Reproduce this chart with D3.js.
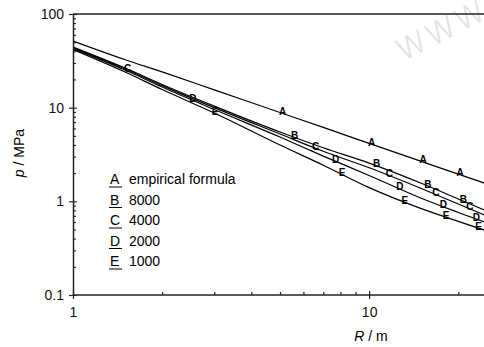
<!DOCTYPE html>
<html>
<head>
<meta charset="utf-8">
<script src="https://cdn.jsdelivr.net/npm/d3@7/dist/d3.min.js"></script>
<style>
  body { margin: 0; background: #fff; }
  svg { display: block; font-family: "Liberation Sans", Arial, sans-serif; }
</style>
</head>
<body>
<svg id="chart" width="484" height="347"></svg>
<script>
// distances R (m) where the curves were read
const distances = [1, 1.5, 2, 3, 5, 7, 10, 15, 20, 25];

// pressure p (MPa) per curve
const empirical = [51.4, 32.5, 24.1, 15.5, 8.87, 6.15, 4.16, 2.67, 1.95, 1.53];
const s8000 = [44.4, 26.5, 17.7, 10.4, 5.50, 3.73, 2.56, 1.56, 1.06, 0.784];
const s4000 = [43.9, 25.9, 17.2, 10.0, 5.23, 3.42, 2.28, 1.37, 0.938, 0.693];
const s2000 = [42.8, 25.2, 16.6, 9.55, 4.86, 3.04, 1.89, 1.08, 0.761, 0.586];
const s1000 = [41.7, 24.0, 15.6, 8.76, 3.99, 2.43, 1.40, 0.836, 0.612, 0.482];

const seriesKeys = ["A", "B", "C", "D", "E"];
const seriesNames = ["empirical formula", "8000", "4000", "2000", "1000"];
const seriesValues = [empirical, s8000, s4000, s2000, s1000];

// where the letter marks sit along each curve (R values)
const markerR = [
  [5.1, 10.2, 15.2, 20.3],
  [5.6, 10.6, 15.8, 20.8],
  [1.53, 6.6, 11.7, 16.8, 21.9],
  [2.54, 7.7, 12.7, 17.8, 23.0],
  [3.02, 8.1, 13.2, 18.2, 23.4]
];

const yTicks = [0.1, 1, 10, 100];
const xTicks = [1, 10];

const svg = d3.select("#chart");
const margin = {left: 73, top: 14, bottom: 52};
const height = 347 - margin.top - margin.bottom;

const x = d3.scaleLog().domain([1, 25]).range([margin.left, 487]);
const y = d3.scaleLog().domain([0.1, 100]).range([margin.top + height, margin.top]);

// watermark
svg.append("text")
  .attr("transform", "translate(402,62) rotate(-27)")
  .attr("font-size", 40)
  .attr("fill", "#e2e2e2")
  .attr("font-family", "DejaVu Sans, sans-serif")
  .attr("font-weight", 200)
  .text("www");

svg.append("clipPath").attr("id", "plot")
  .append("rect")
  .attr("x", margin.left).attr("y", margin.top)
  .attr("width", 487 - margin.left).attr("height", height);

// curves
const line = d3.line()
  .x(d => x(d[0]))
  .y(d => y(d[1]))
  .curve(d3.curveMonotoneX);

const curves = svg.append("g").attr("clip-path", "url(#plot)");
seriesValues.forEach(vals => {
  curves.append("path")
    .datum(distances.map((r, i) => [r, vals[i]]))
    .attr("fill", "none")
    .attr("stroke", "#000")
    .attr("stroke-width", 1.2)
    .attr("d", line);
});

// log-log lookup on a curve, for placing the letters
function pAt(vals, r) {
  let i = d3.bisectRight(distances, r) - 1;
  i = Math.max(0, Math.min(i, distances.length - 2));
  const t = (Math.log(r) - Math.log(distances[i])) / (Math.log(distances[i + 1]) - Math.log(distances[i]));
  return Math.exp(Math.log(vals[i]) + t * (Math.log(vals[i + 1]) - Math.log(vals[i])));
}

seriesKeys.forEach((k, si) => {
  curves.selectAll(null)
    .data(markerR[si])
    .enter().append("text")
    .attr("x", r => x(r))
    .attr("y", r => y(pAt(seriesValues[si], r)) + 1.5)
    .attr("text-anchor", "middle")
    .attr("font-size", 10)
    .attr("font-weight", "bold")
    .text(k);
});

// axes frame
const axisColor = "#222";
svg.append("line")
  .attr("x1", margin.left).attr("x2", 484)
  .attr("y1", margin.top).attr("y2", margin.top)
  .attr("stroke", axisColor).attr("stroke-width", 1.5);

const minorX = [2, 3, 4, 5, 6, 7, 8, 9, 20];
const minorY = [];
[0.1, 1, 10].forEach(d => { for (let m = 2; m <= 9; m++) minorY.push(d * m); });

function styleAxis(g) {
  g.select(".domain").attr("stroke", axisColor).attr("stroke-width", 1.5);
  g.selectAll(".tick line").attr("stroke", axisColor).attr("stroke-width", 1.2);
  g.selectAll(".tick text").attr("font-size", 14).attr("fill", "#111")
    .attr("font-family", "Liberation Sans, Arial, sans-serif");
}

const bottom = margin.top + height;
svg.append("g")
  .attr("transform", "translate(0," + bottom + ")")
  .call(d3.axisBottom(x).tickValues(xTicks).tickFormat(d3.format("")).tickSize(4).tickPadding(8).tickSizeOuter(0))
  .call(styleAxis)
  .call(g => g.select(".domain").attr("d", "M" + margin.left + ",0H484"));
svg.append("g")
  .attr("transform", "translate(0," + bottom + ")")
  .call(d3.axisTop(x).tickValues(xTicks.concat(minorX)).tickFormat("").tickSize(0))
  .call(g => g.select(".domain").remove())
  .call(g => g.selectAll(".tick line")
    .attr("y2", d => xTicks.includes(d) ? -4 : -3)
    .attr("stroke", axisColor).attr("stroke-width", 1.2));

svg.append("g")
  .attr("transform", "translate(" + margin.left + ",0)")
  .call(d3.axisLeft(y).tickValues(yTicks).tickFormat(d => d).tickSize(4).tickPadding(5).tickSizeOuter(0))
  .call(styleAxis);
svg.append("g")
  .attr("transform", "translate(" + margin.left + ",0)")
  .call(d3.axisRight(y).tickValues(yTicks.concat(minorY)).tickFormat("").tickSize(0))
  .call(g => g.select(".domain").remove())
  .call(g => g.selectAll(".tick line")
    .attr("x2", d => yTicks.includes(d) ? 4 : 3)
    .attr("stroke", axisColor).attr("stroke-width", 1.1));

// axis titles
const yTitle = svg.append("text")
  .attr("transform", "translate(24,153) rotate(-90)")
  .attr("text-anchor", "middle")
  .attr("font-size", 14);
yTitle.append("tspan").attr("font-style", "italic").text("p");
yTitle.append("tspan").text(" / MPa");

const xTitle = svg.append("text")
  .attr("x", 371).attr("y", 341)
  .attr("text-anchor", "middle")
  .attr("font-size", 14);
xTitle.append("tspan").attr("font-style", "italic").text("R");
xTitle.append("tspan").text(" / m");

// legend
const legend = svg.append("g").attr("font-size", 14)
  .selectAll("g")
  .data(seriesKeys)
  .enter().append("g")
  .attr("transform", (d, i) => "translate(110," + (184 + i * 20.5) + ")");

legend.append("text").attr("x", 0).text(d => d);
legend.append("line")
  .attr("x1", -1).attr("x2", 12)
  .attr("y1", 3).attr("y2", 3)
  .attr("stroke", "#000").attr("stroke-width", 1);
legend.append("text").attr("x", 19).text((d, i) => seriesNames[i]);
</script>
</body>
</html>
